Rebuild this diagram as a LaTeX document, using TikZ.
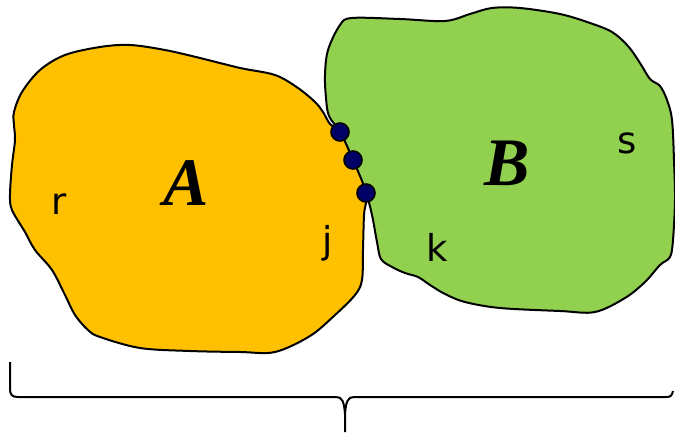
\documentclass[tikz,border=0pt]{standalone}
\usepackage{fontspec}
\newfontfamily\lblfont{DejaVu Sans}
\newfontfamily\setfont{Liberation Serif}
\definecolor{regionA}{RGB}{255,192,0}
\definecolor{regionB}{RGB}{146,208,80}
\definecolor{vertex}{RGB}{0,0,102}
\tikzset{
    region/.style={draw=black, line width=1pt, line join=round},
    pt/.style={circle, draw=black, fill=vertex, line width=0.8pt, inner sep=0pt, minimum size=9pt},
    setname/.style={font=\setfont\fontsize{34}{34}\selectfont\bfseries\itshape},
    lbl/.style={font=\lblfont\fontsize{18.5}{18.5}\selectfont, inner sep=0pt}
}
\begin{document}
\begin{tikzpicture}[x=0.5pt,y=-0.5pt]
        \useasboundingbox (0,0) rectangle (675,433);
        % region B
        \draw[region, fill=regionB] plot[smooth cycle, tension=0.55] coordinates {
            (340,25) (352,18) (400,19) (445,21) (470,14) (492,8) (520,8) (560,14)
            (590,23) (612,32) (628,46) (640,63) (650,79) (660,86) (667,100) (672,120)
            (674,160) (675,200) (673,240) (670,257) (660,265) (645,282) (625,298)
            (595,312) (560,311) (500,308) (465,302) (445,294) (430,285) (418,277)
            (405,273) (392,267) (381,259) (377,242) (372,215) (366,193) (353,160)
            (340,132) (329,116) (326,98) (325,75) (328,50)};
        % region A
        \draw[region, fill=regionA] plot[smooth cycle, tension=0.55] coordinates {
            (14,112) (22,92) (40,70) (65,55) (100,47) (130,45) (165,50) (200,58)
            (240,68) (275,75) (298,88) (315,102) (323,112) (330,124) (340,132)
            (353,160) (366,193) (364,215) (363,250) (362,280) (355,295) (335,315)
            (310,336) (275,352) (240,352) (190,351) (140,348) (100,337) (88,330)
            (75,315) (65,295) (52,270) (35,250) (25,232) (12,210) (10,195)
            (12,165) (15,140) (14,125)};

        % shared boundary points
        \node[pt] (p1) at (340,132) {};
        \node[pt] (p2) at (353,160) {};
        \node[pt] (p3) at (366,193) {};

        % set names
        \node[setname] (nameA) at (186,183) {A};
        \node[setname] (nameB) at (507,163) {B};

        % labels
        \node[lbl] (r) at (59,204) {r};
        \node[lbl] (j) at (328,243) {j};
        \node[lbl] (k) at (437,247) {k};
        \node[lbl] (s) at (627,143) {s};

        % brace under both regions
        \draw[line width=1pt] (10,362) -- (10,388) .. controls (10,395) and (12,397) .. (18,397)
            -- (336,397) .. controls (342,397) and (344,401) .. (345,414) -- (345,432);
        \draw[line width=1pt] (345,414) .. controls (346,401) and (348,397) .. (354,397)
            -- (667,397) .. controls (671,397) and (672,395) .. (673,391);
\end{tikzpicture}
\end{document}
